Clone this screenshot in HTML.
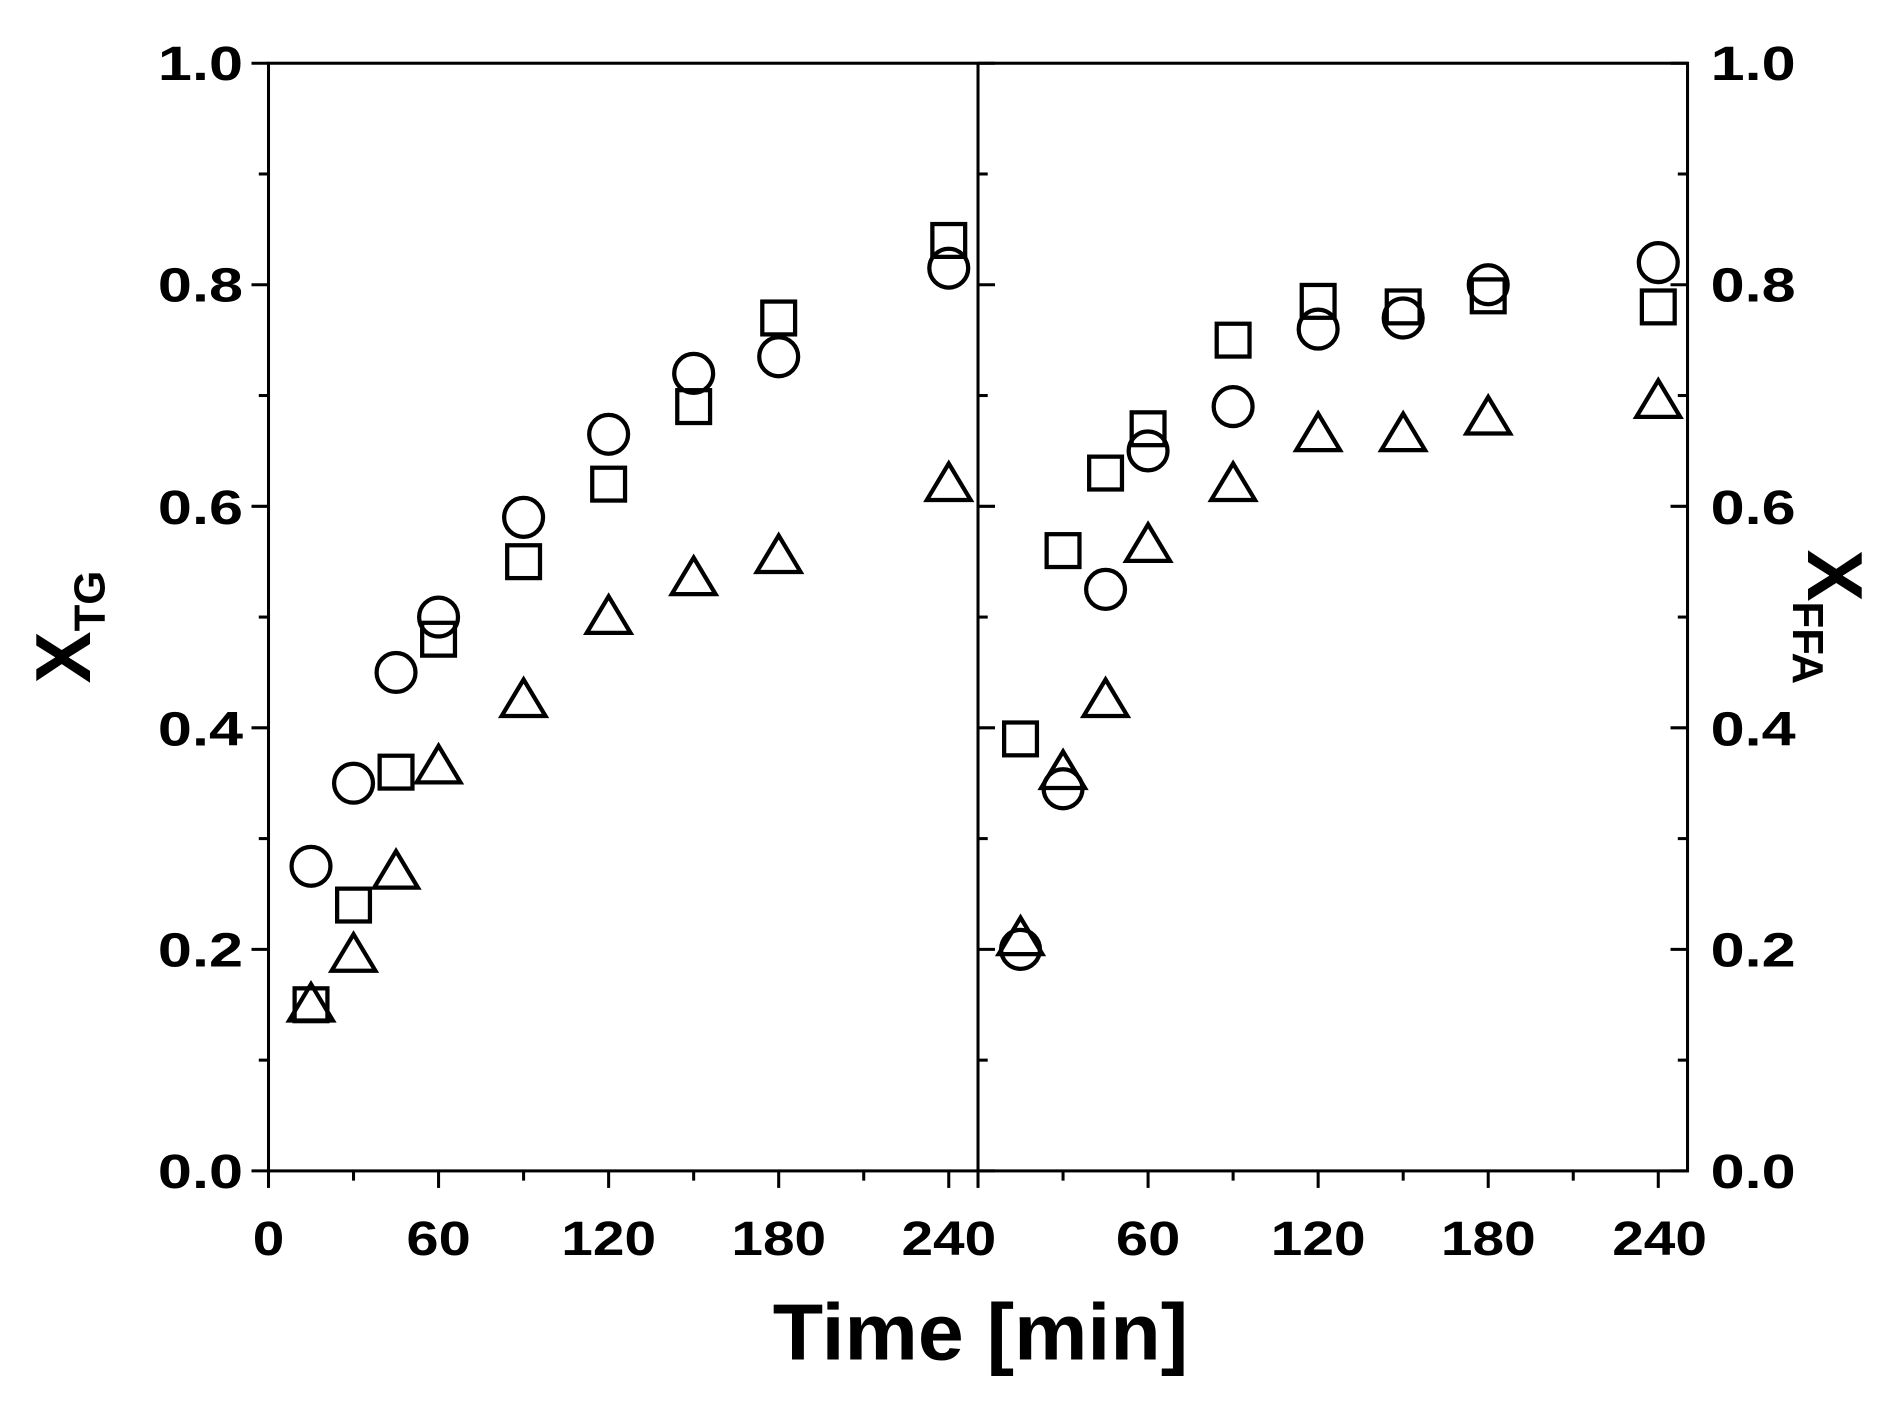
<!DOCTYPE html>
<html><head><meta charset="utf-8"><style>
html,body{margin:0;padding:0;background:#fff;}
svg{display:block;}
text{font-family:"Liberation Sans",Arial,sans-serif;font-weight:bold;fill:#000;}
</style></head><body>
<svg id="s" width="1888" height="1408" viewBox="0 0 1554 1158" preserveAspectRatio="none" xmlns="http://www.w3.org/2000/svg">
<g stroke="#000" stroke-width="2.5" fill="none">
<rect x="221" y="52" width="1168" height="911"/>
<line x1="805" y1="52" x2="805" y2="963"/>
</g>
<g id="ticks" stroke="#000" stroke-width="2.5"></g>
<g font-size="40" text-anchor="end" lengthAdjust="spacingAndGlyphs">
<text x="200" y="977" textLength="70" lengthAdjust="spacingAndGlyphs">0.0</text>
<text x="200" y="795" textLength="70" lengthAdjust="spacingAndGlyphs">0.2</text>
<text x="200" y="613" textLength="70" lengthAdjust="spacingAndGlyphs">0.4</text>
<text x="200" y="431" textLength="70" lengthAdjust="spacingAndGlyphs">0.6</text>
<text x="200" y="248" textLength="70" lengthAdjust="spacingAndGlyphs">0.8</text>
<text x="200" y="66" textLength="70" lengthAdjust="spacingAndGlyphs">1.0</text>
</g>
<g font-size="40" text-anchor="start">
<text x="1408" y="977" textLength="70" lengthAdjust="spacingAndGlyphs">0.0</text>
<text x="1408" y="795" textLength="70" lengthAdjust="spacingAndGlyphs">0.2</text>
<text x="1408" y="613" textLength="70" lengthAdjust="spacingAndGlyphs">0.4</text>
<text x="1408" y="431" textLength="70" lengthAdjust="spacingAndGlyphs">0.6</text>
<text x="1408" y="248" textLength="70" lengthAdjust="spacingAndGlyphs">0.8</text>
<text x="1408" y="66" textLength="70" lengthAdjust="spacingAndGlyphs">1.0</text>
</g>
<g font-size="40" text-anchor="middle">
<text x="221" y="1032" textLength="26" lengthAdjust="spacingAndGlyphs">0</text>
<text x="361" y="1032" textLength="53" lengthAdjust="spacingAndGlyphs">60</text>
<text x="501" y="1032" textLength="78" lengthAdjust="spacingAndGlyphs">120</text>
<text x="641" y="1032" textLength="78" lengthAdjust="spacingAndGlyphs">180</text>
<text x="781" y="1032" textLength="78" lengthAdjust="spacingAndGlyphs">240</text>
<text x="945" y="1032" textLength="53" lengthAdjust="spacingAndGlyphs">60</text>
<text x="1085" y="1032" textLength="78" lengthAdjust="spacingAndGlyphs">120</text>
<text x="1225" y="1032" textLength="78" lengthAdjust="spacingAndGlyphs">180</text>
<text x="1366" y="1032" textLength="78" lengthAdjust="spacingAndGlyphs">240</text>
</g>
<text x="807" y="1118" font-size="66" text-anchor="middle" textLength="342" lengthAdjust="spacingAndGlyphs">Time [min]</text>
<text transform="translate(74,562) rotate(-90)" font-size="64">X<tspan font-size="36" dy="12">TG</tspan></text>
<text transform="translate(1488,452) rotate(90)" font-size="64">X<tspan font-size="36" dy="12">FFA</tspan></text>
<g id="m" stroke="#000" stroke-width="3.5" fill="none"></g>
</svg>
<script>
var ns="http://www.w3.org/2000/svg";
function el(p,n,a){var e=document.createElementNS(ns,n);for(var k in a)e.setAttribute(k,a[k]);p.appendChild(e);}
var T=document.getElementById("ticks");
for(var i=0;i<=10;i++){var y=963-91.1*i,L=i%2?8:14;
el(T,"line",{x1:221-L,y1:y,x2:221,y2:y});
el(T,"line",{x1:805,y1:y,x2:805+L,y2:y});
el(T,"line",{x1:1389-L,y1:y,x2:1389,y2:y});}
for(var t=0;t<=240;t+=30){var L=t%60?8:14;
el(T,"line",{x1:221+t*2.333,y1:963,x2:221+t*2.333,y2:963+L});
el(T,"line",{x1:805+t*2.333,y1:963,x2:805+t*2.333,y2:963+L});}
var ts=[15,30,45,60,90,120,150,180,240];
var D=[
[221,[.275,.35,.45,.5,.59,.665,.72,.735,.815],[.15,.24,.36,.48,.55,.62,.69,.77,.84],[.15,.195,.27,.365,.425,.5,.535,.555,.62]],
[805,[.2,.345,.525,.65,.69,.76,.77,.8,.82],[.39,.56,.63,.67,.75,.785,.78,.79,.78],[.21,.36,.425,.565,.62,.665,.665,.68,.695]]];
var M=document.getElementById("m");
D.forEach(function(d){for(var i=0;i<9;i++){var x=d[0]+ts[i]*2.333;
var y=963-911*d[1][i];el(M,"circle",{cx:x,cy:y,r:16});
y=963-911*d[2][i];el(M,"rect",{x:x-13.5,y:y-13.5,width:27,height:27});
y=963-911*d[3][i];el(M,"polygon",{points:(x-18)+","+(y+13)+" "+(x+18)+","+(y+13)+" "+x+","+(y-17)});}});
</script>
</body></html>
